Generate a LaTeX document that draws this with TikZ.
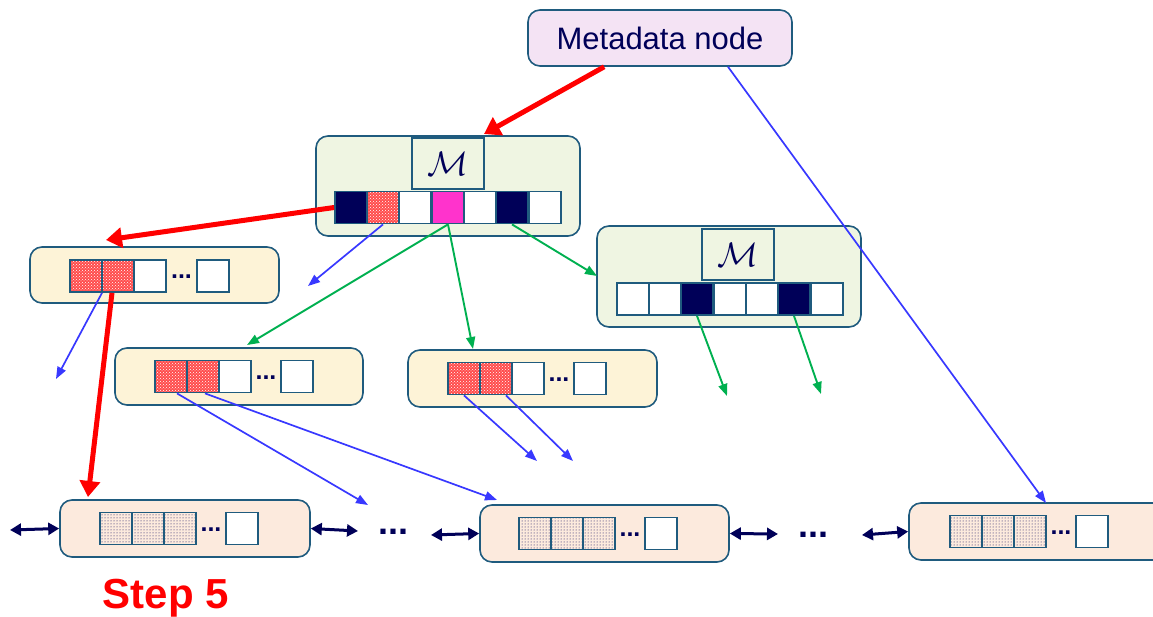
\documentclass[tikz,border=0pt]{standalone}
\usepackage{fontspec}
\setmainfont{Liberation Sans}
\usetikzlibrary{arrows.meta,patterns}
\definecolor{bord}{HTML}{1F5B7E}
\definecolor{navy}{HTML}{000058}
\definecolor{metafill}{HTML}{F4E3F4}
\definecolor{grnfill}{HTML}{EFF5E2}
\definecolor{crmfill}{HTML}{FDF3D7}
\definecolor{pchfill}{HTML}{FCEADD}
\definecolor{mag}{HTML}{FF33CC}
\definecolor{ablue}{HTML}{3838FF}
\definecolor{agreen}{HTML}{00B050}
\definecolor{ared}{HTML}{FF0000}
\tikzset{
  box/.style={draw=bord,line width=1.6pt,rounded corners=12pt,inner sep=0pt},
  mbox/.style={draw=bord,line width=1.6pt,fill=grnfill,inner sep=0pt,minimum width=72pt,minimum height=51pt,text=navy},
  cell/.style={draw=bord,line width=1.8pt,fill=white,inner sep=0pt,minimum width=32pt,minimum height=32pt},
  nv/.style={cell,fill=navy},
  mg/.style={cell,fill=mag},
  rd/.style={cell,preaction={fill=ared!70},pattern=crosshatch dots,pattern color=white},
  dt/.style={cell,pattern=dots,pattern color=navy},
  ell/.style={inner sep=0pt,font=\bfseries\fontsize{25}{25}\selectfont\color{navy}},
  bell/.style={inner sep=0pt,font=\bfseries\fontsize{36}{36}\selectfont\color{navy}},
  redarr/.style={draw=ared,line width=5pt,-{Triangle[length=16pt,width=20pt]}},
  bluearr/.style={draw=ablue,line width=1.7pt,-{Triangle[length=12pt,width=9pt]}},
  grnarr/.style={draw=agreen,line width=1.9pt,-{Triangle[length=12pt,width=9pt]}},
  dbl/.style={draw=navy,line width=3pt,{Triangle[length=11pt,width=12pt]}-{Triangle[length=11pt,width=12pt]}},
}
\begin{document}
\begin{tikzpicture}[x=1pt,y=-1pt]
\useasboundingbox (0,0) rectangle (1153,617);
% Metadata node
\node[box,fill=metafill,minimum width=264pt,minimum height=56pt,font=\fontsize{31}{32}\selectfont\color{navy}] (meta) at (660,38) {Metadata node};
% root node
\node[box,fill=grnfill,minimum width=264pt,minimum height=100pt] (root) at (448,186) {};
\node[mbox] (rm) at (448,163.5) {\scalebox{3.4}{$\mathcal{M}$}};
\node[nv] (r1) at (351,207.5) {};
\node[rd] (r2) at (383,207.5) {};
\node[cell] (r3) at (415,207.5) {};
\node[mg] (r4) at (448,207.5) {};
\node[cell] (r5) at (480,207.5) {};
\node[nv] (r6) at (512,207.5) {};
\node[cell] (r7) at (545,207.5) {};
% right internal node
\node[box,fill=grnfill,minimum width=264pt,minimum height=101pt] (rt) at (729,276.5) {};
\node[mbox] (rtm) at (738,254.5) {\scalebox{3.4}{$\mathcal{M}$}};
\node[cell] (s1) at (633,299) {};
\node[cell] (s2) at (665,299) {};
\node[nv] (s3) at (697,299) {};
\node[cell] (s4) at (730,299) {};
\node[cell] (s5) at (762,299) {};
\node[nv] (s6) at (794,299) {};
\node[cell] (s7) at (827,299) {};
% inner node 1
\node[box,fill=crmfill,minimum width=249pt,minimum height=56pt] (n1) at (154.5,275) {};
\node[rd] (a1) at (86,276) {};
\node[rd] (a2) at (118,276) {};
\node[cell] (a3) at (150,276) {};
\node[ell] (ad) at (181.5,277) {...};
\node[cell] (a4) at (213,276) {};
% inner node 2
\node[box,fill=crmfill,minimum width=248pt,minimum height=57pt] (n2) at (239,376.5) {};
\node[rd] (b1) at (171,376.5) {};
\node[rd] (b2) at (203,376.5) {};
\node[cell] (b3) at (235,376.5) {};
\node[ell] (bd) at (266,377.5) {...};
\node[cell] (b4) at (297,376.5) {};
% inner node 3
\node[box,fill=crmfill,minimum width=249pt,minimum height=57pt] (n3) at (532.5,378.5) {};
\node[rd] (c1) at (464,378.5) {};
\node[rd] (c2) at (496,378.5) {};
\node[cell] (c3) at (528,378.5) {};
\node[ell] (cd) at (559,379.5) {...};
\node[cell] (c4) at (590,378.5) {};
% leaf 1
\node[box,fill=pchfill,minimum width=250pt,minimum height=57pt] (l1) at (185,528.5) {};
\node[dt] (d1) at (116,528.5) {};
\node[dt] (d2) at (148,528.5) {};
\node[dt] (d3) at (180,528.5) {};
\node[ell] (dd) at (211,529.5) {...};
\node[cell] (d4) at (242,528.5) {};
% leaf 2
\node[box,fill=pchfill,minimum width=249pt,minimum height=57pt] (l2) at (604.5,533.5) {};
\node[dt] (e1) at (535,533.5) {};
\node[dt] (e2) at (567,533.5) {};
\node[dt] (e3) at (599,533.5) {};
\node[ell] (ed) at (630,534.5) {...};
\node[cell] (e4) at (661,533.5) {};
% leaf 3
\node[box,fill=pchfill,minimum width=260pt,minimum height=57pt] (l3) at (1039,531.5) {};
\node[dt] (f1) at (966,531.5) {};
\node[dt] (f2) at (998,531.5) {};
\node[dt] (f3) at (1030,531.5) {};
\node[ell] (fd) at (1061,532.5) {...};
\node[cell] (f4) at (1092,531.5) {};
% ellipses between leaves
\node[bell] (g1) at (393,532) {...};
\node[bell] (g2) at (813,535) {...};
% free ends
\coordinate (lft) at (10,530);
\coordinate (o1) at (358,531);
\coordinate (o2) at (431,535);
\coordinate (o3) at (778,534);
\coordinate (o4) at (862,535);
\coordinate (x1) at (308,286);
\coordinate (x2) at (56,379);
\coordinate (x3) at (368,505);
\coordinate (x4) at (537,461);
\coordinate (x5) at (573,461);
\coordinate (y1) at (727,396);
\coordinate (y2) at (821,394);
% red arrows
\draw[redarr] ([xshift=77pt]meta.south west) -- (484,134);
\draw[redarr] (r1.west) -- (106,240);
\draw[redarr] ([xshift=-6pt]a2.south) -- (88,497);
% blue arrows
\draw[bluearr] (r2.south) -- (x1);
\draw[bluearr] ([xshift=16pt]a1.south) -- (x2);
\draw[bluearr] ([xshift=6pt]b1.south) -- (x3);
\draw[bluearr] ([xshift=2pt]b2.south) -- (497,500);
\draw[bluearr] (c1.south) -- (x4);
\draw[bluearr] ([xshift=10pt]c2.south) -- (x5);
\draw[bluearr] ([xshift=68pt]meta.south) -- (1046,503);
% green arrows
\draw[grnarr] (r4.south) -- (247,345);
\draw[grnarr] (r4.south) -- (473,349);
\draw[grnarr] (r6.south) -- (597,276);
\draw[grnarr] (s3.south) -- (y1);
\draw[grnarr] (s6.south) -- (y2);
% double arrows
\draw[dbl] (lft) -- (l1.west);
\draw[dbl] (l1.east) -- (o1);
\draw[dbl] (o2) -- (l2.west);
\draw[dbl] (l2.east) -- (o3);
\draw[dbl] (o4) -- (l3.west);
% Step 5
\node[font=\bfseries\fontsize{42}{42}\selectfont,text=ared] (step) at (166,598) {Step 5};
\end{tikzpicture}
\end{document}
